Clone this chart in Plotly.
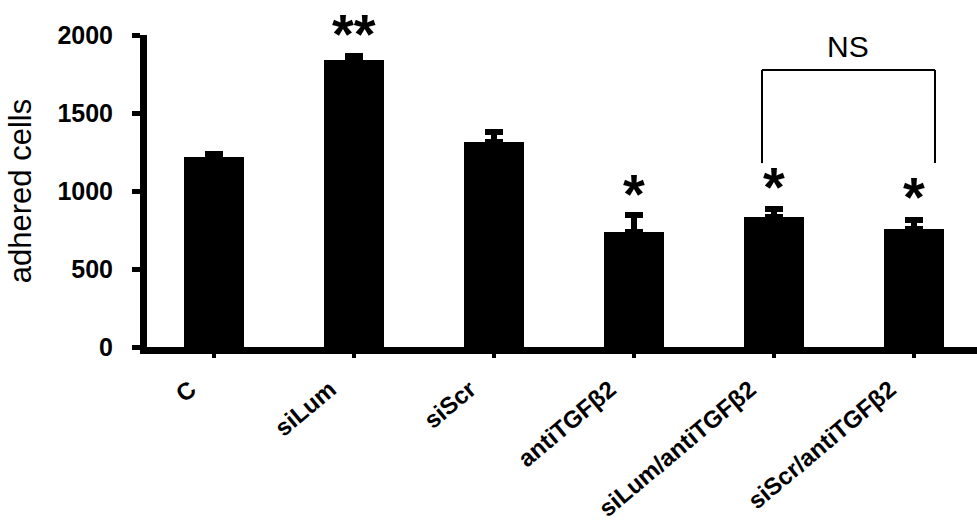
import plotly.graph_objects as go

# Cell adhesion per treatment group
groups = ["C", "siLum", "siScr", "antiTGFβ2", "siLum/antiTGFβ2", "siScr/antiTGFβ2"]
adhered = [1218, 1840, 1314, 737, 833, 756]
sem = [18, 23, 64, 111, 54, 58]
stars = ["", "**", "", "*", "*", "*"]
star_y = [None, 2010, None, 985, 1028, 965]
y_ticks = [0, 500, 1000, 1500, 2000]
Y_MAX = 2000

FONT = "Liberation Sans, Arial, sans-serif"

fig = go.Figure(
    go.Bar(
        x=list(range(len(groups))),
        y=adhered,
        width=0.43,
        marker=dict(color="black", line=dict(width=0)),
        error_y=dict(type="data", array=sem, visible=True, color="black",
                     thickness=6, width=9, symmetric=False, arrayminus=[0] * len(sem)),
        showlegend=False,
    )
)

# significance stars above bars (paper y so marks above the range still show)
for i, (s, sy) in enumerate(zip(stars, star_y)):
    if s:
        fig.add_annotation(x=i, y=sy / Y_MAX, yref="paper", text=s, showarrow=False,
                           font=dict(family=FONT, size=56, color="black", weight="bold"),
                           xanchor="center", yanchor="middle")

# NS bracket between the two combined treatments
br_left, br_right, br_top, br_bottom = 3.914, 5.15, 1776, 1179
fig.add_shape(type="line", x0=br_left, x1=br_left, y0=br_bottom, y1=br_top,
              xref="x", yref="y", line=dict(color="black", width=2))
fig.add_shape(type="line", x0=br_left, x1=br_right, y0=br_top, y1=br_top,
              xref="x", yref="y", line=dict(color="black", width=2))
fig.add_shape(type="line", x0=br_right, x1=br_right, y0=br_bottom, y1=br_top,
              xref="x", yref="y", line=dict(color="black", width=2))
fig.add_annotation(x=(br_left + br_right) / 2, y=1929 / Y_MAX, yref="paper", text="NS",
                   showarrow=False, font=dict(family=FONT, size=30, color="black"),
                   xanchor="center", yanchor="middle")

fig.update_layout(
    width=977, height=526,
    margin=dict(l=147, r=0, t=35, b=179, pad=0),
    plot_bgcolor="white", paper_bgcolor="white",
    font=dict(family=FONT, color="black"),
    bargap=0,
)
fig.update_xaxes(
    automargin=False,
    range=[-0.479, 5.45],
    tickmode="array", tickvals=list(range(len(groups))), ticktext=groups,
    tickangle=-40,
    tickfont=dict(family=FONT, size=24, color="black", weight="bold"),
    showline=True, linecolor="black", linewidth=7,
    ticks="outside", ticklen=4, tickwidth=4, tickcolor="black",
    showgrid=False, zeroline=False,
    ticklabelshift=-24, ticklabelstandoff=8,
)
fig.update_yaxes(
    automargin=False,
    range=[0, Y_MAX],
    tickmode="array", tickvals=y_ticks, ticktext=[str(v) for v in y_ticks],
    tickfont=dict(family=FONT, size=25, color="black", weight="bold"),
    showline=True, linecolor="black", linewidth=7,
    ticks="outside", ticklen=8, tickwidth=5, tickcolor="black",
    showgrid=False, zeroline=False,
    ticklabelstandoff=14,
    title=dict(text="adhered cells", font=dict(family=FONT, size=31, color="black"),
               standoff=19),
)

fig.write_html("out.html")
